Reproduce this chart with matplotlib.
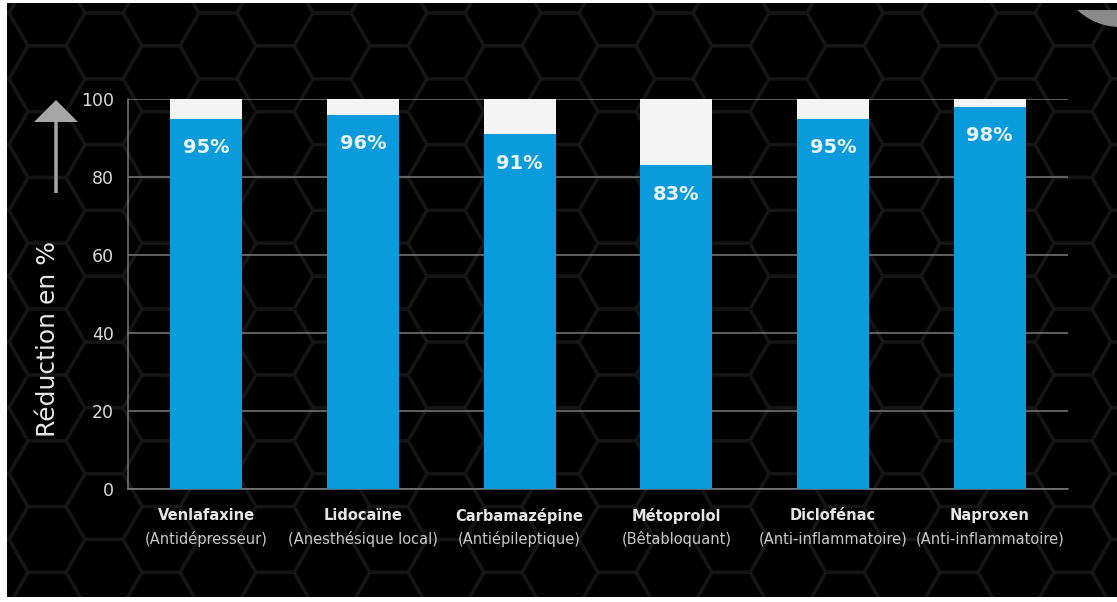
import numpy as np
import matplotlib
matplotlib.use("Agg")
import matplotlib.pyplot as plt
from matplotlib.patches import RegularPolygon, FancyArrow, Ellipse, Rectangle
from matplotlib.collections import PatchCollection

# data
medicaments = ["Venlafaxine", "Lidocaïne", "Carbamazépine", "Métoprolol", "Diclofénac", "Naproxen"]
classes = ["(Antidépresseur)", "(Anesthésique local)", "(Antiépileptique)",
           "(Bêtabloquant)", "(Anti-inflammatoire)", "(Anti-inflammatoire)"]
reduction = [95, 96, 91, 83, 95, 98]
yticks = [0, 20, 40, 60, 80, 100]

W, H = 1117, 602
fig = plt.figure(figsize=(W / 100, H / 100), dpi=100, facecolor="white")

# background: black panel with honeycomb
bg = fig.add_axes([0, 0, 1, 1], zorder=0)
bg.set_xlim(0, W)
bg.set_ylim(H, 0)
bg.axis("off")
panel = Rectangle((7, 3), W - 7, 594, facecolor="black", edgecolor="none")
bg.add_patch(panel)

R = 38
hexes = []
for i in range(int(W / (1.5 * R)) + 3):
    cx = i * 1.5 * R - 10
    off = (np.sqrt(3) * R / 2) if i % 2 else 0
    for j in range(int(H / (np.sqrt(3) * R)) + 3):
        cy = j * np.sqrt(3) * R + off - 20
        hexes.append(RegularPolygon((cx, cy), 6, radius=R, orientation=np.pi / 6))
pc = PatchCollection(hexes, facecolor="none", edgecolor="#151515", linewidth=2.4)
bg.add_collection(pc)
pc.set_clip_path(panel)

# grey disc in the top right corner
disc = Ellipse((1120, -35), 124, 124, facecolor="#8a8a8a", edgecolor="none")
bg.add_patch(disc)
disc.set_clip_path(Rectangle((7, 10), W, 100, transform=bg.transData))

# arrow
bg.add_patch(FancyArrow(56, 193, 0, -93, width=3.5, head_width=44, head_length=22,
                        length_includes_head=True, color="#a6a6a6", linewidth=0))

fig.text(48 / W, 1 - 339 / H, "Réduction en %", rotation=90, ha="center", va="center",
         fontsize=18, color="#e6e6e6")

# main chart
ax = fig.add_axes([128 / W, 1 - 489 / H, (1068 - 128) / W, (489 - 99) / H], zorder=1)
ax.set_facecolor("none")
x = np.arange(len(medicaments))
ax.bar(x, [100] * len(x), width=0.46, color="#f4f4f4", zorder=2)
ax.bar(x, reduction, width=0.46, color="#0a9bdc", zorder=3)

for xi, v in zip(x, reduction):
    ax.annotate(f"{v}%", (xi, v), xytext=(0, -21), textcoords="offset points",
                ha="center", va="center", fontsize=14, fontweight="bold",
                color="#eaf6fb", zorder=4)

ax.set_xlim(-0.5, 5.5)
ax.set_ylim(0, 100)
ax.set_yticks(yticks)
ax.set_yticklabels([str(t) for t in yticks], fontsize=12.5, color="#d9d9d9")
ax.tick_params(axis="y", length=0, pad=10)
ax.set_xticks([])
ax.grid(axis="y", color="#7a7a7a", linewidth=1.1, zorder=1)
ax.set_axisbelow(True)
for s in ["top", "right"]:
    ax.spines[s].set_visible(False)
for s in ["left", "bottom"]:
    ax.spines[s].set_color("#7a7a7a")
    ax.spines[s].set_linewidth(1.1)

tr = ax.get_xaxis_transform()
for xi, nom, cl in zip(x, medicaments, classes):
    ax.text(xi, -0.069, nom, transform=tr, ha="center", va="center",
            fontsize=10.5, fontweight="bold", color="#e6e6e6")
    ax.text(xi, -0.128, cl, transform=tr, ha="center", va="center",
            fontsize=10.5, color="#c8c8c8")

fig.savefig("out.png", dpi=100, facecolor="white")
